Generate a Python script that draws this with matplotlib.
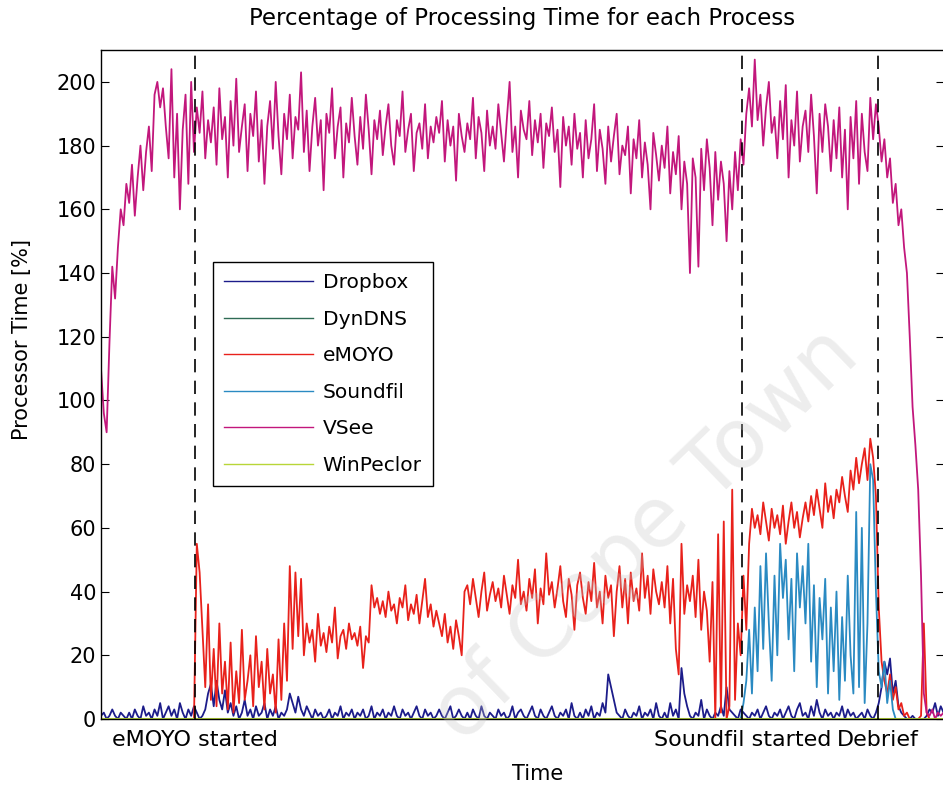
import numpy as np
import matplotlib
matplotlib.use("Agg")
import matplotlib.pyplot as plt

# common time grid (arbitrary units, evenly sampled)
n_samples = 300
t_end = 100.0

vsee = [
    110, 96, 90, 118, 142, 132, 148, 160, 155, 168,
    162, 174, 158, 170, 180, 166, 178, 186, 172, 196,
    200, 192, 198, 186, 176, 204, 170, 190, 160, 185,
    196, 168, 200, 178, 192, 184, 197, 176, 188, 181,
    192, 174, 198, 182, 189, 170, 194, 180, 201, 178,
    186, 193, 172, 190, 183, 197, 175, 188, 168, 186,
    194, 179, 200, 183, 171, 190, 182, 196, 176, 189,
    185, 203, 178, 191, 172, 186, 195, 180, 188, 166,
    190, 184, 198, 176, 186, 192, 170, 187, 181, 195,
    183, 174, 189, 179, 196, 185, 171, 188, 182, 191,
    177, 186, 193, 180, 174, 188, 183, 197, 178, 185,
    190, 172, 184, 187, 179, 193, 176, 186, 181, 189,
    184, 194, 175, 188, 180, 186, 169, 190, 183, 178,
    187, 182, 195, 176, 189, 184, 172, 191, 180, 186,
    179, 193, 184, 175, 188, 200, 178, 186, 170, 191,
    185, 182, 194, 177, 188, 181, 190, 173, 187, 183,
    192, 178, 185, 167, 189, 180, 186, 174, 190, 179,
    184, 170, 188, 176, 182, 193, 172, 185, 179, 168,
    186, 175, 183, 190, 171, 180, 177, 186, 165, 182,
    176, 188, 170, 181, 174, 160, 184, 177, 169, 180,
    173, 186, 165, 178, 171, 183, 160, 175, 168, 140,
    176, 170, 142, 179, 166, 182, 173, 155, 178, 163,
    175, 168, 150, 172, 160, 178, 166, 182, 174, 190,
    198, 186, 207, 188, 196, 180, 192, 200, 184, 189,
    176, 194, 182, 199, 170, 188, 180, 197, 175, 186,
    191, 178, 196, 183, 165, 190, 178, 193, 186, 172,
    188, 176, 192, 170, 185, 160, 189, 176, 194, 168,
    190, 178, 172, 195, 182, 193, 186, 175, 182, 170,
    176, 162, 168, 155, 160, 148, 140, 120, 98, 86,
    72, 45, 8, 2, 1, 3, 0, 2, 1, 2,
]

emoyo = [0] * 34 + [
    55, 46, 28, 10, 36, 6,
    22, 4, 30, 8, 18, 3, 24, 2, 15, 5,
    28, 6, 12, 20, 4, 26, 10, 18, 3, 22,
    8, 14, 2, 25, 6, 30, 12, 48, 22, 46,
    26, 44, 20, 30, 24, 28, 18, 33, 23, 27,
    21, 29, 24, 35, 19, 26, 28, 22, 30, 25,
    27, 23, 29, 16, 26, 24, 42, 35, 38, 33,
    37, 32, 40, 34, 36, 30, 38, 35, 42, 31,
    36, 33, 39, 30, 37, 44, 32, 36, 29, 34,
    30, 26, 33, 24, 29, 22, 31, 26, 20, 40,
    42, 36, 44, 38, 32, 40, 46, 34, 39, 43,
    37, 41, 35, 45, 39, 33, 42, 38, 50, 36,
    40, 34, 44, 38, 47, 30, 41, 36, 52, 39,
    43, 35, 41, 48, 37, 32, 44, 39, 28, 42,
    46, 38, 33, 43, 37, 49, 35, 40, 30, 45,
    38, 42, 26, 40, 48, 35, 44, 30, 46, 37,
    41, 34, 52, 38, 45, 33, 47, 40, 36, 43,
    35, 48, 30, 44, 22, 14, 55, 33, 42, 37,
    45, 32, 50, 28, 40, 34, 18, 43, 0, 58,
    2, 62, 0, 4, 72, 6, 30, 20, 45, 28,
    55, 66, 60, 64, 58, 68, 62, 56, 66, 60,
    64, 58, 67, 55, 62, 68, 60, 65, 57, 63,
    68, 62, 70, 64, 72, 66, 60, 74, 65, 70,
    63, 72, 68, 76, 70, 65, 78, 72, 82, 74,
    80, 85, 75, 88, 82, 70, 35, 18, 12, 8,
    14, 6, 10, 3, 5, 1, 2, 0, 0, 0,
    0, 1, 30, 2, 0, 0, 0, 0, 0, 0,
]

soundfil = [0] * 228 + [
    5, 12,
    28, 8, 35, 15, 48, 22, 52, 30, 12, 45,
    20, 55, 38, 50, 25, 44, 15, 52, 35, 48,
    30, 55, 18, 42, 10, 38, 25, 44, 8, 35,
    15, 40, 6, 32, 12, 45, 20, 8, 65, 10,
    60, 5, 30, 80, 75, 40, 15, 10, 18, 5,
    12, 3, 0, 0, 0, 0, 0, 0, 0, 0,
    0, 0, 0, 0, 0, 0, 0, 0, 0, 0,
]

dropbox = [
    1, 2, 0, 1, 3, 1, 0, 2, 1, 0,
    2, 0, 3, 1, 0, 4, 1, 2, 0, 3,
    1, 5, 0, 2, 4, 1, 3, 0, 5, 2,
    0, 3, 1, 4, 2, 0, 1, 3, 8, 11,
    4, 12, 6, 3, 9, 2, 5, 1, 4, 0,
    2, 6, 1, 3, 0, 4, 1, 2, 5, 0,
    3, 1, 4, 0, 2, 1, 3, 8, 5, 2,
    7, 3, 1, 4, 2, 0, 3, 1, 2, 0,
    1, 3, 0, 2, 1, 4, 0, 2, 1, 3,
    0, 2, 1, 3, 0, 1, 4, 0, 2, 1,
    3, 0, 2, 1, 4, 1, 0, 3, 1, 2,
    0, 2, 4, 1, 0, 3, 1, 2, 0, 1,
    3, 1, 0, 2, 4, 0, 1, 3, 1, 0,
    2, 0, 3, 1, 0, 4, 1, 0, 2, 1,
    0, 3, 1, 2, 0, 1, 4, 0, 2, 3,
    1, 0, 2, 4, 1, 0, 3, 1, 0, 2,
    4, 1, 0, 2, 1, 3, 0, 5, 1, 0,
    2, 0, 3, 1, 4, 0, 2, 1, 5, 2,
    14, 10, 6, 2, 1, 0, 3, 1, 0, 2,
    1, 4, 0, 2, 1, 3, 0, 5, 1, 0,
    2, 0, 5, 1, 3, 0, 16, 8, 4, 1,
    0, 2, 1, 6, 0, 3, 1, 0, 2, 1,
    4, 1, 10, 3, 2, 1, 0, 3, 2, 1,
    0, 2, 1, 3, 0, 2, 4, 1, 0, 2,
    1, 3, 0, 2, 4, 1, 0, 3, 5, 1,
    2, 0, 4, 1, 6, 2, 0, 3, 1, 2,
    0, 2, 1, 4, 0, 3, 1, 2, 0, 1,
    2, 0, 3, 1, 0, 2, 5, 10, 18, 14,
    19, 8, 12, 4, 2, 1, 0, 0, 1, 0,
    0, 0, 0, 1, 3, 2, 5, 1, 4, 2,
]

dyndns = [0] * n_samples
winpeclor = [0] * n_samples

event_times = [11.2, 76.1, 92.2]
event_labels = ["eMOYO started", "Soundfil started", "Debrief"]

t = np.linspace(0, t_end, n_samples)

fig = plt.figure(figsize=(9.43, 7.87), dpi=100)
ax = fig.add_axes([0.1071, 0.0864, 0.8935, 0.850])

lw = 1.3
ax.plot(t, dropbox, color="#1c1c8a", lw=lw, label="Dropbox")
ax.plot(t, dyndns, color="#2f6b55", lw=lw, label="DynDNS")
ax.plot(t, emoyo, color="#e8211b", lw=lw, label="eMOYO")
ax.plot(t, soundfil, color="#2a8ac2", lw=lw, label="Soundfil")
ax.plot(t, vsee, color="#c2177c", lw=lw, label="VSee")
ax.plot(t, winpeclor, color="#b8d638", lw=2.2, label="WinPeclor")

for et in event_times:
    ax.axvline(et, color="black", lw=1.2, ls=(0, (8, 5)), zorder=5)

ax.set_xlim(0, t_end)
ax.set_ylim(0, 210)
ax.set_yticks(range(0, 201, 20))
ax.set_xticks(event_times)
ax.set_xticklabels(event_labels)
ax.tick_params(axis="x", length=0, pad=8, labelsize=16)
ax.tick_params(axis="y", direction="in", length=6, labelsize=15,
               right=True, left=True)
for s in ax.spines.values():
    s.set_linewidth(1.0)

ax.set_title("Percentage of Processing Time for each Process",
             fontsize=16.5, pad=18)
ax.set_xlabel("Time", fontsize=15)
ax.xaxis.set_label_coords(0.518, -0.068)
ax.set_ylabel("Processor Time [%]", fontsize=15)
ax.yaxis.set_label_coords(-0.082, 0.567)

leg = ax.legend(loc="upper left", bbox_to_anchor=(0.133, 0.683),
                borderaxespad=0, fontsize=14.5, handlelength=4.4,
                labelspacing=0.87, fancybox=False, framealpha=1,
                edgecolor="black", borderpad=0.55, handletextpad=0.5)
leg.get_frame().set_linewidth(1.0)
for h in leg.get_lines():
    h.set_linewidth(1.0)

# faint watermark from the scanned source
fig.text(0.685, 0.32, "of Cape Town", fontsize=60, color="#c4c4c4",
         alpha=0.3, rotation=44, ha="center", va="center", zorder=10)

fig.savefig("out.png", dpi=100, facecolor="white")
